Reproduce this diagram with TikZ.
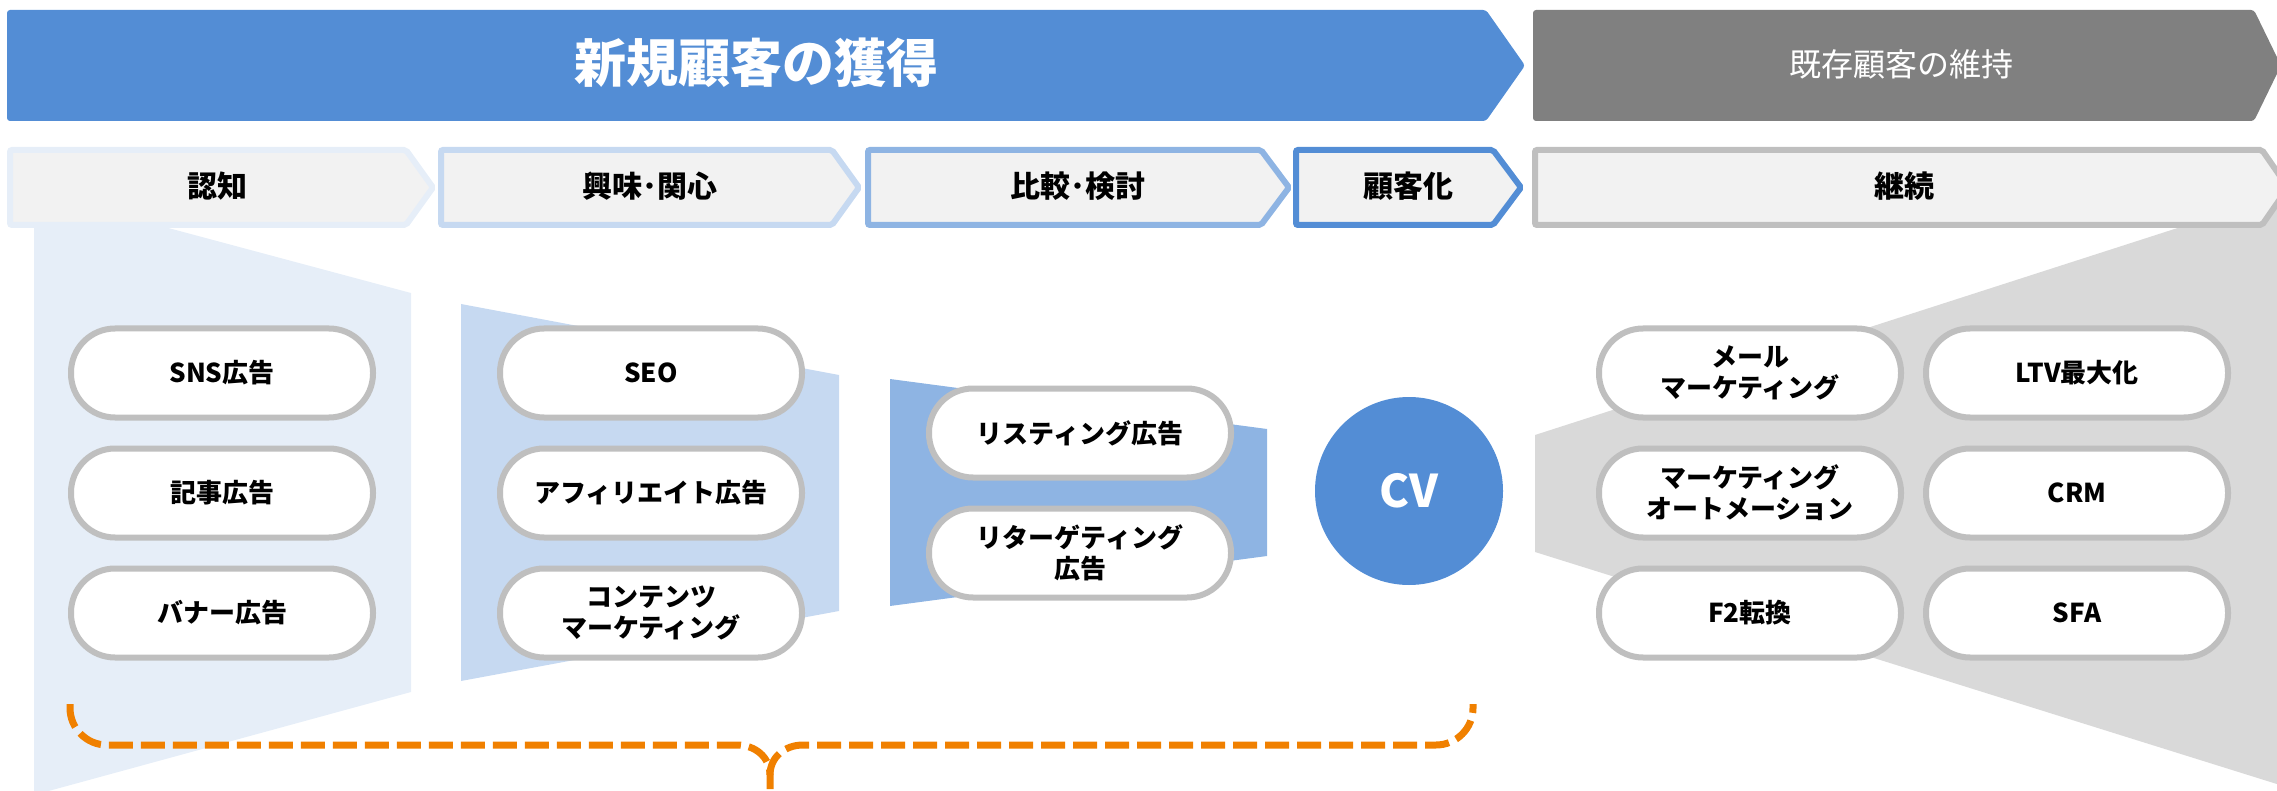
\documentclass[tikz,border=0pt]{standalone}
\usepackage{fontspec}
\setmainfont{Noto Sans CJK JP}
\definecolor{bblue}{HTML}{538DD5}
\definecolor{fone}{HTML}{E6EEF8}
\definecolor{ftwo}{HTML}{C6D9F1}
\definecolor{fthree}{HTML}{8EB4E3}
\definecolor{bgray}{HTML}{808080}
\definecolor{fgray}{HTML}{D9D9D9}
\definecolor{lgray}{HTML}{BFBFBF}
\definecolor{afill}{HTML}{F2F2F2}
\definecolor{orng}{HTML}{F08000}
\tikzset{
  phasebox/.style={line width=6pt, fill=afill, rounded corners=2pt},
  phaselabel/.style={font=\bfseries\fontsize{30}{36}\selectfont, text=black},
  pill/.style={draw=lgray, line width=6pt, fill=white, rounded corners=44pt,
    minimum width=302pt, minimum height=89pt, inner sep=0pt, align=center,
    font=\bfseries\fontsize{26}{31}\selectfont},
  bracepath/.style={draw=orng, line width=7pt, dash pattern=on 24pt off 8pt}
}
\begin{document}
\begin{tikzpicture}[x=1pt,y=-1pt]
\useasboundingbox (0,0) rectangle (2277,791);
\clip (0,0) rectangle (2277,791);
% funnels
\fill[fone] (34,192) -- (411,293) -- (411,692) -- (34,795) -- cycle;
\fill[ftwo] (461,304) -- (839,375) -- (839,611) -- (461,681) -- cycle;
\fill[fthree] (890,379) -- (1267,429) -- (1267,556) -- (890,606) -- cycle;
\fill[fgray] (1535,435) -- (2280,195) -- (2280,785) -- (1535,552) -- cycle;
% banners
\fill[bblue, rounded corners=3pt] (7,10) -- (1486,10) -- (1525,65.5) -- (1486,121) -- (7,121) -- cycle;
\fill[bgray, rounded corners=3pt] (1533,10) -- (2254,10) -- (2281,65.5) -- (2254,121) -- (1533,121) -- cycle;
\node[font=\bfseries\fontsize{52}{60}\selectfont, text=white] (acq) at (756,63) {新規顧客の獲得};
\node[font=\fontsize{32}{38}\selectfont, text=white] (ret) at (1901,64) {既存顧客の維持};
% phase arrows
\draw[phasebox, draw=fone] (10,150) -- (406,150) -- (433,187.5) -- (406,225) -- (10,225) -- cycle;
\draw[phasebox, draw=ftwo] (441,150) -- (832,150) -- (859,187.5) -- (832,225) -- (441,225) -- cycle;
\draw[phasebox, draw=fthree] (868,150) -- (1261,150) -- (1289,187.5) -- (1261,225) -- (868,225) -- cycle;
\draw[phasebox, draw=bblue] (1296,150) -- (1493,150) -- (1521,187.5) -- (1493,225) -- (1296,225) -- cycle;
\draw[phasebox, draw=lgray] (1535,150) -- (2262,150) -- (2288,187.5) -- (2262,225) -- (1535,225) -- cycle;
\node[phaselabel] (p1) at (217,186) {認知};
\node[phaselabel] (p2) at (650,186) {興味･関心};
\node[phaselabel] (p3) at (1078,186) {比較･検討};
\node[phaselabel] (p4) at (1408,186) {顧客化};
\node[phaselabel] (p5) at (1904,186) {継続};
% pills column 1
\node[pill] (sns) at (222,373) {SNS広告};
\node[pill] (kiji) at (222,493) {記事広告};
\node[pill] (banner) at (222,613) {バナー広告};
% column 2
\node[pill] (seo) at (651,373) {SEO};
\node[pill] (aff) at (651,493) {アフィリエイト広告};
\node[pill] (cont) at (651,613) {コンテンツ\\マーケティング};
% column 3
\node[pill] (list) at (1080,433) {リスティング広告};
\node[pill] (retg) at (1080,553) {リターゲティング\\広告};
% CV
\node[circle, fill=bblue, minimum size=188pt, inner sep=0pt, text=white,
  font=\bfseries\fontsize{45}{50}\selectfont] (cv) at (1409,491) {CV};
% columns 4 and 5
\node[pill] (mail) at (1750,373) {メール\\マーケティング};
\node[pill] (ma) at (1750,493) {マーケティング\\オートメーション};
\node[pill] (f2) at (1750,613) {F2転換};
\node[pill] (ltv) at (2077,373) {LTV最大化};
\node[pill] (crm) at (2077,493) {CRM};
\node[pill] (sfa) at (2077,613) {SFA};
% brace
\coordinate (bl) at (70,704);
\coordinate (bm) at (770,775);
\coordinate (bt) at (770,789);
\coordinate (br) at (1473,704);
\draw[bracepath] (bl) -- (70,708) .. controls (70,728.4) and (86.6,745) .. (107,745)
  -- (737,745) .. controls (755,745) and (770,757) .. (bm) -- (bt);
\draw[bracepath] (bm) .. controls (770,757) and (785,745) .. (803,745)
  -- (1436,745) .. controls (1456.4,745) and (1473,728.4) .. (1473,708) -- (br);
\end{tikzpicture}
\end{document}
